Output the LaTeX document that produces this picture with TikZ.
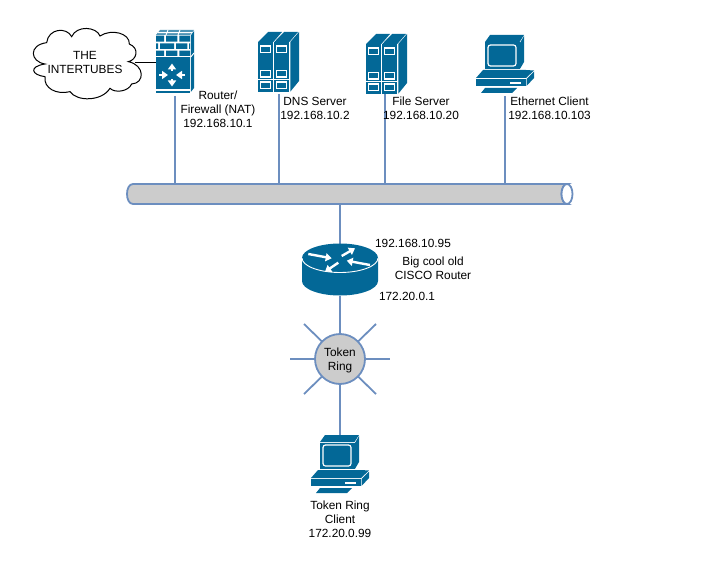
\documentclass[tikz,border=0pt]{standalone}
\usepackage{fontspec}
\setmainfont{Liberation Sans}
\usetikzlibrary{arrows.meta}
\definecolor{devblue}{HTML}{036897}
\definecolor{linkblue}{HTML}{6C8EBF}
\definecolor{busgrey}{HTML}{CCCCCC}
\tikzset{
  lbl/.style={align=center,inner sep=0pt,font=\fontsize{11.85}{14}\selectfont},
  link/.style={draw=linkblue,line width=1.8pt},
  hook/.style={inner sep=0pt,outer sep=0pt,draw=none},
  whitearrow/.style={draw=white,line width=2.4pt,-{Triangle[width=8pt,length=6pt]}},
  pics/firewall/.style={code={
    \fill[devblue!70] (0,5)--(4,0)--(38,0)--(34,5)--cycle;
    \draw[white,line width=.9pt] (2,2.7)--(36,2.7) (12,0)--(10,5) (24,0)--(22,5);
    \fill[devblue] (34.8,5.5)--(38,1)--(38,58)--(34.8,62)--cycle;
    \draw[white,line width=.9pt] (34.8,27)--(38,23);
    \fill[devblue] (0,5.7) rectangle (8,11.7) (10,5.7) rectangle (21.3,11.7) (23.3,5.7) rectangle (34,11.7);
    \fill[devblue] (0,13.3) rectangle (2,19) (4,13.3) rectangle (18,19) (20,13.3) rectangle (31.3,19) (33,13.3) rectangle (34,19);
    \fill[devblue] (0,20.7) rectangle (8,26) (10,20.7) rectangle (21.3,26) (23.3,20.7) rectangle (34,26);
    \fill[devblue] (0,27.3) rectangle (34,59.3);
    \fill[devblue] (0,60.7) rectangle (34,63.3);
    \draw[whitearrow] (16,41)--(16,33.5);
    \draw[whitearrow] (16,49)--(16,56.5);
    \draw[whitearrow] (3,45)--(12,45);
    \draw[whitearrow] (29,45)--(20,45);
  }},
  pics/server/.style={code={
    \fill[devblue] (0,10)--(10,0)--(24,0)--(15.3,10)--cycle;
    \fill[devblue] (16.3,10)--(26,0)--(40,0)--(31.3,10)--cycle;
    \fill[devblue] (32.3,10)--(41,0)--(41,49)--(32.3,59.7)--cycle;
    \foreach \cx in {0,16}{
      \begin{scope}[shift={(\cx,0)}]
        \fill[devblue] (0,10) rectangle (15.3,59.7);
        \draw[white,line width=1.2pt] (0,47.5)--(15.3,47.5);
        \draw[white,line width=1.2pt] (2.5,14) rectangle (12.8,20.5);
        \draw[white,line width=1.2pt] (2.5,38.5) rectangle (12.8,45);
        \draw[white,line width=1.2pt] (2.5,50) rectangle (12.8,56.5);
      \end{scope}
    }
  }},
  pics/terminal/.style={code={
    \fill[devblue] (9,7)--(14,0)--(48,0)--(43.5,7)--cycle;
    \fill[devblue] (44.2,7.5)--(48,1)--(48,27)--(44.2,33.5)--cycle;
    \fill[devblue] (9,7.5) rectangle (43.5,34);
    \draw[white,line width=1.2pt,rounded corners=2.5pt] (12,10) rectangle (40,31);
    \fill[devblue] (7,35)--(50,35)--(58,35.5)--(50,43)--(0,43)--cycle;
    \fill[devblue] (50.5,44)--(58,36.5)--(58,43)--(50.5,51)--cycle;
    \fill[devblue] (0,44) rectangle (50,51);
    \fill[white] (34,47) rectangle (45,48.8);
    \fill[devblue] (5,58)--(36,58)--(41,53)--(9,53)--cycle;
  }}
}
\begin{document}
\begin{tikzpicture}[x=1pt,y=-1pt]
\useasboundingbox (0,0) rectangle (714,567);
% anchors
\node[hook,minimum width=38pt,minimum height=66pt] (fw) at (175,63) {};
\node[hook,minimum width=41pt,minimum height=62pt] (dns) at (279,63) {};
\node[hook,minimum width=41pt,minimum height=60pt] (file) at (385,64) {};
\node[hook,minimum width=58pt,minimum height=61pt] (eth) at (505,65.5) {};
\node[hook,minimum width=58pt,minimum height=59pt] (client) at (340,464.5) {};
\node[hook,minimum width=445pt,minimum height=20pt] (bus) at (349.5,194) {};
\node[hook,minimum width=77pt,minimum height=52pt] (router) at (340,270) {};
\node[hook,minimum width=105pt,minimum height=66pt] (cloud) at (85,63) {};
\coordinate (spokeW) at (290,359);
\coordinate (spokeE) at (390,359);
\coordinate (spokeNW) at (304,324);
\coordinate (spokeNE) at (376,324);
\coordinate (spokeSW) at (304,394);
\coordinate (spokeSE) at (376,394);
\node[hook,circle,minimum size=50pt] (ring) at (340,359) {};
% connectors
\draw[black,line width=1pt] (135,62.7) -- (fw.west |- 0,62.7);
\foreach \dev in {fw,dns,file,eth}
  \draw[link] (\dev.south) -- (\dev.south |- bus.north);
\draw[link] (bus.south -| router.north) -- (router.north);
\draw[link] (router.south) -- (ring.north);
\draw[link] (ring.south) -- (client.north);
\foreach \sp in {spokeW,spokeE,spokeNW,spokeNE,spokeSW,spokeSE}
  \draw[link] (ring) -- (\sp);
% cloud
\begin{scope}[shift={(20,20)},x=.3333pt,y=-.3333pt]
\draw[black,fill=white,line width=1pt]
  (75,132) .. controls (30,125) and (25,75) .. (80,68)
  .. controls (85,25) and (140,20) .. (155,50)
  .. controls (170,15) and (230,20) .. (240,48)
  .. controls (275,25) and (330,40) .. (328,72)
  .. controls (360,85) and (350,120) .. (325,125)
  .. controls (375,135) and (375,190) .. (335,192)
  .. controls (325,215) and (285,220) .. (270,205)
  .. controls (245,245) and (170,245) .. (150,215)
  .. controls (110,225) and (70,205) .. (75,170)
  .. controls (35,165) and (25,140) .. (75,132) -- cycle;
\end{scope}
% bus
\draw[link,fill=busgrey] (133,184) -- (567,184) arc[start angle=90,end angle=270,x radius=5.5,y radius=-10] -- (133,204)
  .. controls (125,204) and (125,184) .. (133,184) -- cycle;
\draw[link,fill=white] (567,194) ellipse[x radius=5.5,y radius=10];
% ring
\draw[link,fill=busgrey] (ring.center) circle[radius=25];
% devices
\pic at (156,30) {firewall};
\pic at (258,32) {server};
\pic at (366,34) {server};
\pic at (476,35) {terminal};
\pic at (311,435) {terminal};
% router
\fill[devblue] (302,258) -- (302,281) arc[start angle=180,end angle=360,x radius=38,y radius=-14.5] -- (378,258) -- cycle;
\fill[devblue] (340,258) ellipse[x radius=38,y radius=14.5];
\draw[white,line width=.9pt] (302,258) arc[start angle=180,end angle=360,x radius=38,y radius=-14.5];
\draw[whitearrow] (308.3,254)--(331.7,258.3);
\draw[whitearrow] (341.7,256)--(355,248.3);
\draw[whitearrow] (370,265)--(346.7,260.7);
\draw[whitearrow] (338.3,262.7)--(325,271.7);
% labels
\node[lbl] (tcloud) at (85,62) {THE\\INTERTUBES};
\node[lbl] (tfw) at (218,109) {Router/\\Firewall (NAT)\\192.168.10.1};
\node[lbl] (tdns) at (315,108.5) {DNS Server\\192.168.10.2};
\node[lbl] (tfile) at (421,108.5) {File Server\\192.168.10.20};
\node[lbl] (teth) at (549.5,108.5) {Ethernet Client\\192.168.10.103};
\node[lbl] (tr1) at (413,243) {192.168.10.95};
\node[lbl] (tr2) at (433,268) {Big cool old\\CISCO Router};
\node[lbl] (tr3) at (407,296) {172.20.0.1};
\node[lbl] (tring) at (340,360.5) {Token\\Ring};
\node[lbl] (tclient) at (340,519.5) {Token Ring\\Client\\172.20.0.99};
\end{tikzpicture}
\end{document}
